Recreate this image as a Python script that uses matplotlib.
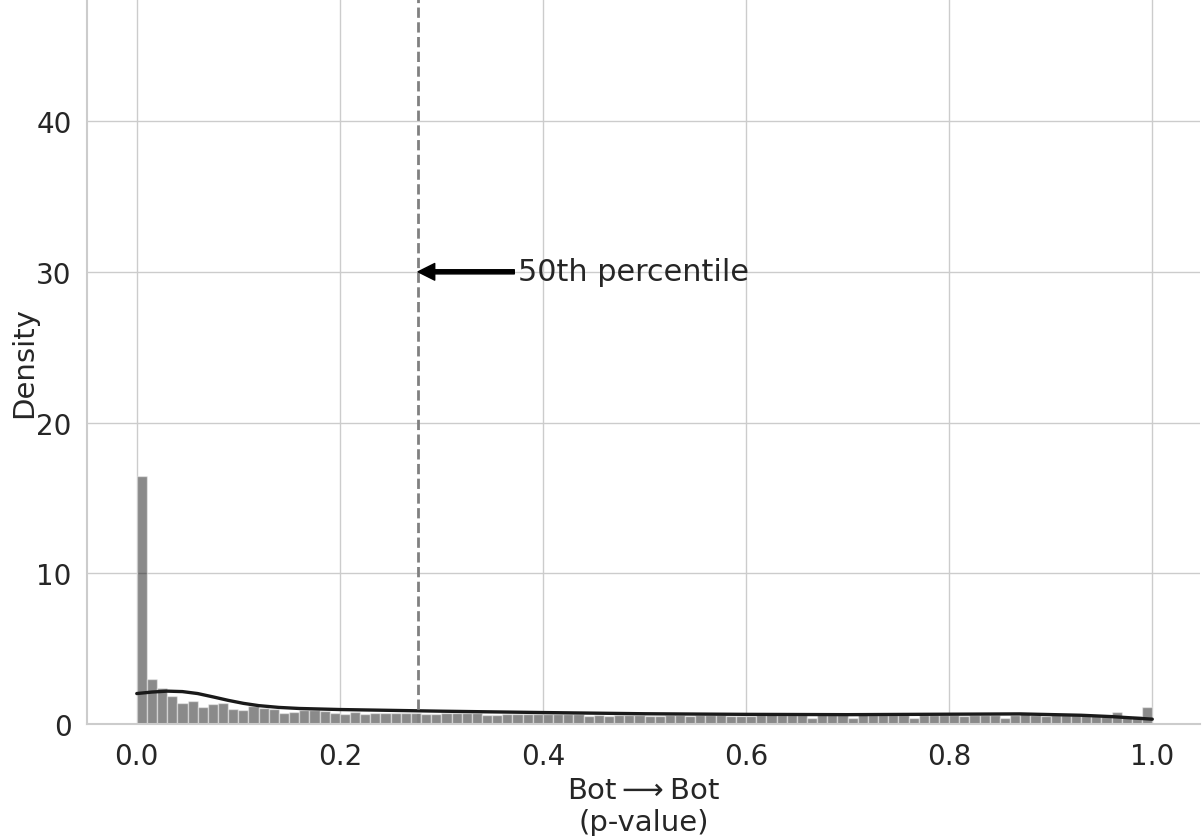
import numpy as np
import matplotlib
matplotlib.use("Agg")
import matplotlib.pyplot as plt
import seaborn as sns

# histogram of p-values, 100 bins on [0, 1], density
bin_edges = np.linspace(0, 1, 101)
density = [
    16.45, 3.0, 2.42, 1.89, 1.4, 1.53, 1.13, 1.33, 1.4, 1.0,
    0.93, 1.22, 1.07, 1.02, 0.73, 0.8, 0.93, 0.93, 0.87, 0.73,
    0.69, 0.82, 0.69, 0.75, 0.75, 0.75, 0.75, 0.75, 0.69, 0.69,
    0.72, 0.72, 0.72, 0.72, 0.62, 0.62, 0.69, 0.69, 0.69, 0.69,
    0.66, 0.66, 0.66, 0.66, 0.5, 0.63, 0.5, 0.63, 0.63, 0.63,
    0.52, 0.52, 0.63, 0.63, 0.52, 0.63, 0.63, 0.63, 0.52, 0.52,
    0.52, 0.6, 0.72, 0.6, 0.6, 0.6, 0.42, 0.6, 0.6, 0.6,
    0.42, 0.64, 0.6, 0.6, 0.6, 0.6, 0.42, 0.6, 0.6, 0.6,
    0.6, 0.55, 0.6, 0.6, 0.6, 0.42, 0.6, 0.73, 0.6, 0.55,
    0.6, 0.6, 0.6, 0.6, 0.6, 0.55, 0.82, 0.5, 0.55, 1.15,
]

# kde curve, sampled by eye
kde_x = [0, 0.015, 0.03, 0.045, 0.06, 0.075, 0.09, 0.105, 0.12, 0.14,
         0.16, 0.2, 0.3, 0.4, 0.5, 0.6, 0.7, 0.8, 0.87, 0.93, 0.96, 1.0]
kde_y = [2.02, 2.12, 2.18, 2.15, 2.02, 1.8, 1.57, 1.37, 1.22, 1.1,
         1.03, 0.96, 0.85, 0.76, 0.68, 0.64, 0.62, 0.65, 0.67, 0.58, 0.49, 0.32]

median = 0.277

sns.set_theme(style="whitegrid")

fig = plt.figure(figsize=(12.02, 8.37), dpi=100)
ax = fig.add_axes([87 / 1202, 112 / 837, 1113 / 1202, 725 / 837])

widths = np.diff(bin_edges)
ax.bar(bin_edges[:-1], density, width=widths, align="edge",
       color="black", alpha=0.46, edgecolor="white", linewidth=1)
ax.plot(kde_x, kde_y, color="#1a1a1a", linewidth=2.4)

ax.axvline(median, color="gray", linestyle="--", linewidth=2)
ax.annotate("50th percentile", xy=(median, 30), xytext=(0.375, 30),
            fontsize=21.8, va="center", ha="left", color="#262626",
            arrowprops=dict(facecolor="black", edgecolor="black",
                            width=3, headwidth=12, headlength=12, shrink=0))

ax.set_xlim(-0.049, 1.047)
ax.set_ylim(0, 48.1)
ax.set_xticks([0, 0.2, 0.4, 0.6, 0.8, 1.0])
ax.set_yticks([0, 10, 20, 30, 40])
ax.tick_params(labelsize=20, colors="#262626")
ax.tick_params(axis="x", pad=7)
ax.tick_params(axis="y", pad=5)
ax.set_xlabel("Bot$\\longrightarrow$Bot\n(p-value)", fontsize=21,
              color="#262626", labelpad=4, linespacing=1.22)
ax.set_ylabel("Density", fontsize=21, color="#262626", labelpad=-1.5)

for side in ["top", "right"]:
    ax.spines[side].set_visible(False)
for side in ["left", "bottom"]:
    ax.spines[side].set_color("#cccccc")
    ax.spines[side].set_linewidth(1.5)

fig.savefig("out.png", dpi=100)
